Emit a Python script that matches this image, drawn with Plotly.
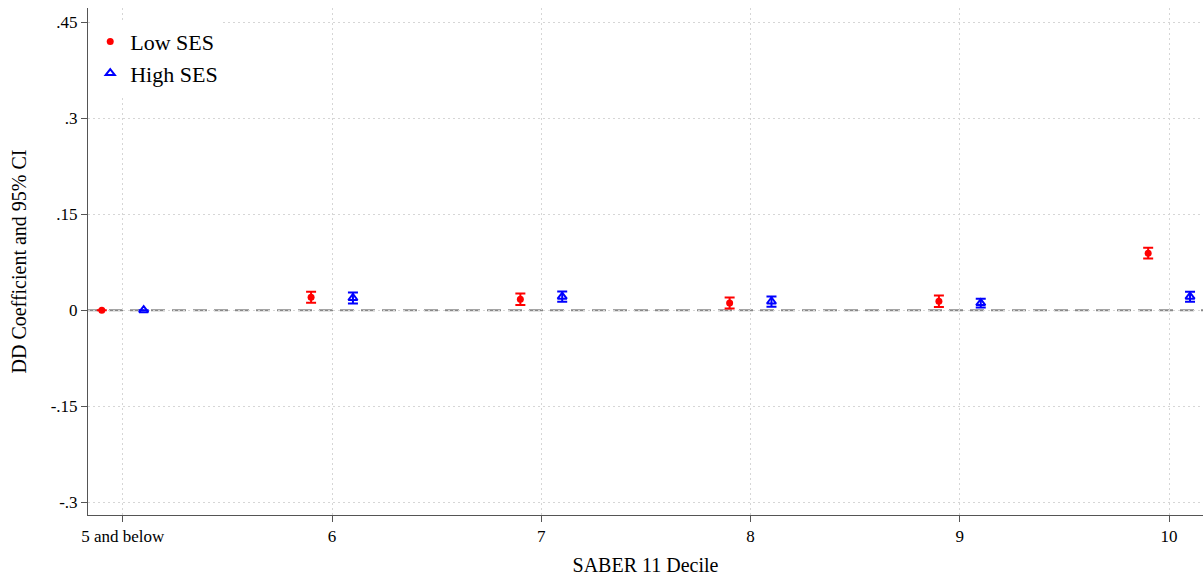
import plotly.graph_objects as go

# Data
deciles = [5, 6, 7, 8, 9, 10]
tick_labels = ["5 and below", "6", "7", "8", "9", "10"]
low_x = [4.9, 5.9, 6.9, 7.9, 8.9, 9.9]
low_coef = [0.0, 0.020, 0.017, 0.011, 0.014, 0.089]
low_ci = [None, 0.0086, 0.009, 0.0086, 0.009, 0.0083]
high_x = [5.1, 6.1, 7.1, 8.1, 9.1, 10.1]
high_coef = [0.0, 0.019, 0.021, 0.0135, 0.011, 0.021]
high_ci = [None, 0.0085, 0.008, 0.008, 0.007, 0.0078]
y_ticks = [0.45, 0.3, 0.15, 0, -0.15, -0.3]
y_tick_labels = [".45", ".3", ".15", "0", "-.15", "-.3"]

RED = "#ff0000"
BLUE = "#0000ff"
FONT = "Liberation Serif"

fig = go.Figure()
fig.add_trace(go.Scatter(
    x=low_x, y=low_coef, mode="markers", name="Low SES",
    marker=dict(symbol="circle", size=7, color=RED),
    error_y=dict(type="data", array=low_ci, visible=True, color=RED, thickness=2, width=5),
))
fig.add_trace(go.Scatter(
    x=high_x, y=high_coef, mode="markers", name="High SES",
    marker=dict(symbol="triangle-up-open", size=8, color=BLUE, line=dict(width=2, color=BLUE)),
    error_y=dict(type="data", array=high_ci, visible=True, color=BLUE, thickness=2, width=5),
))

fig.add_shape(type="line", xref="paper", yref="y", x0=0, x1=1, y0=0, y1=0,
              line=dict(color="#888888", width=2, dash="14px,7px"), layer="below")

fig.update_layout(
    width=1203, height=577,
    margin=dict(l=88, r=0, t=8, b=62),
    paper_bgcolor="white", plot_bgcolor="white",
    font=dict(family=FONT, color="#000000"),
    showlegend=True,
    legend=dict(x=0.002, y=0.975, xanchor="left", yanchor="top",
                bgcolor="white", borderwidth=0,
                font=dict(family=FONT, size=22, color="#000000"),
                itemsizing="trace", tracegroupgap=0),
    xaxis=dict(
        range=[4.834, 10.162], tickmode="array", tickvals=deciles, ticktext=tick_labels,
        showgrid=True, gridcolor="#d6d6d6", griddash="2px,3px", gridwidth=1,
        showline=True, linecolor="#555555", linewidth=1,
        ticks="outside", ticklen=6, tickcolor="#555555",
        tickfont=dict(family=FONT, size=17, color="#000000"),
        title=dict(text="SABER 11 Decile", font=dict(family=FONT, size=20, color="#000000"), standoff=12),
        zeroline=False,
    ),
    yaxis=dict(
        range=[-0.32, 0.472], tickmode="array", tickvals=y_ticks, ticktext=y_tick_labels,
        showgrid=True, gridcolor="#d6d6d6", griddash="2px,3px", gridwidth=1,
        showline=True, linecolor="#555555", linewidth=1,
        ticks="outside", ticklen=6, tickcolor="#555555",
        tickfont=dict(family=FONT, size=17, color="#000000"),
        title=dict(text="DD Coefficient and 95% CI", font=dict(family=FONT, size=20, color="#000000"), standoff=18),
        zeroline=False,
    ),
)

fig.write_html("out.html")
